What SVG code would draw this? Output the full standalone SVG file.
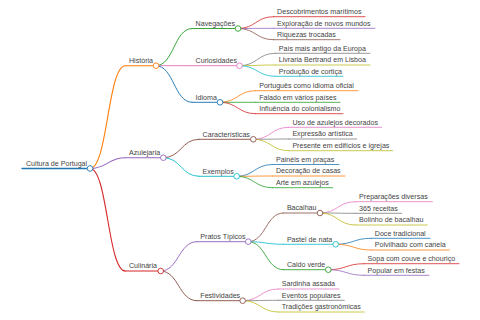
<svg xmlns="http://www.w3.org/2000/svg" width="480" height="320" viewBox="0 0 480 320">
<style>
text{font-family:"Liberation Sans",Arial,sans-serif;font-size:7.1px;fill:#444}
path,line{fill:none;stroke-linecap:round}
circle{fill:#fff;stroke-width:0.9}
.w0{stroke-width:1.3}.w1{stroke-width:1.1}.w2{stroke-width:0.95}.w3{stroke-width:0.85}.w4{stroke-width:0.8}
.c0{stroke:#1f77b4}.c1{stroke:#ff7f0e}.c2{stroke:#2ca02c}.c3{stroke:#d62728}.c4{stroke:#9467bd}
.c5{stroke:#8c564b}.c6{stroke:#e377c2}.c7{stroke:#7f7f7f}.c8{stroke:#bcbd22}.c9{stroke:#17becf}
</style>
<rect width="480" height="320" fill="#fff"/>
<g id="connectors">
<path class="w1 c1" d="M90,168.5 C107.7,168.5 107.7,65.7 125.4,65.7"/>
<path class="w1 c4" d="M90,168.5 C107.7,168.5 107.7,157.7 125.4,157.7"/>
<path class="w1 c3" d="M90,168.5 C107.7,168.5 107.7,271 125.4,271"/>
<path class="w2 c2" d="M156,65.7 C174,65.7 174,28.5 192,28.5"/>
<path class="w2 c6" d="M156,65.7 L192,65.7"/>
<path class="w2 c0" d="M156,65.7 C174,65.7 174,102.3 192,102.3"/>
<path class="w2 c5" d="M163.3,157.7 C181.2,157.7 181.2,139.3 199,139.3"/>
<path class="w2 c9" d="M163.3,157.7 C181.2,157.7 181.2,176.3 199,176.3"/>
<path class="w2 c4" d="M160.7,271 C178.7,271 178.7,241.7 196.7,241.7"/>
<path class="w2 c5" d="M160.7,271 C178.7,271 178.7,300.7 196.7,300.7"/>
<path class="w3 c5" d="M248.3,241.7 C265.8,241.7 265.8,213 283.3,213"/>
<path class="w3 c9" d="M248.3,241.7 C265.8,241.7 265.8,244.3 283.3,244.3"/>
<path class="w3 c2" d="M248.3,241.7 C265.8,241.7 265.8,269.7 283.3,269.7"/>
<path class="w4 c3" d="M238,28.5 C255.8,28.5 255.8,16.7 273.5,16.7"/>
<path class="w4 c4" d="M238,28.5 C255.8,28.5 255.8,28.3 273.5,28.3"/>
<path class="w4 c5" d="M238,28.5 C255.8,28.5 255.8,39.7 273.5,39.7"/>
<path class="w4 c7" d="M239.5,65.7 C257.4,65.7 257.4,53.3 275.2,53.3"/>
<path class="w4 c8" d="M239.5,65.7 C257.4,65.7 257.4,65 275.2,65"/>
<path class="w4 c9" d="M239.5,65.7 C257.4,65.7 257.4,76.3 275.2,76.3"/>
<path class="w4 c1" d="M220,102.3 C237.8,102.3 237.8,90.7 255.6,90.7"/>
<path class="w4 c2" d="M220,102.3 L255.6,102.3"/>
<path class="w4 c3" d="M220,102.3 C237.8,102.3 237.8,113.7 255.6,113.7"/>
<path class="w4 c6" d="M253.3,139.3 C271,139.3 271,127.3 288.8,127.3"/>
<path class="w4 c7" d="M253.3,139.3 C271,139.3 271,139 288.8,139"/>
<path class="w4 c8" d="M253.3,139.3 C271,139.3 271,150.7 288.8,150.7"/>
<path class="w4 c0" d="M236.7,176.3 C254.5,176.3 254.5,164.5 272.4,164.5"/>
<path class="w4 c1" d="M236.7,176.3 C254.5,176.3 254.5,176 272.4,176"/>
<path class="w4 c2" d="M236.7,176.3 C254.5,176.3 254.5,187.7 272.4,187.7"/>
<path class="w4 c6" d="M320,213 C337.8,213 337.8,201.7 355.5,201.7"/>
<path class="w4 c7" d="M320,213 C337.8,213 337.8,213.3 355.5,213.3"/>
<path class="w4 c8" d="M320,213 C337.8,213 337.8,225 355.5,225"/>
<path class="w4 c0" d="M335.7,244.3 C353.5,244.3 353.5,238.3 371.2,238.3"/>
<path class="w4 c1" d="M335.7,244.3 C353.5,244.3 353.5,250 371.2,250"/>
<path class="w4 c3" d="M328.3,269.7 C346.2,269.7 346.2,263.7 364,263.7"/>
<path class="w4 c4" d="M328.3,269.7 C346.2,269.7 346.2,275.3 364,275.3"/>
<path class="w4 c6" d="M242.7,300.7 C260.5,300.7 260.5,289 278.2,289"/>
<path class="w4 c7" d="M242.7,300.7 C260.5,300.7 260.5,300.3 278.2,300.3"/>
<path class="w4 c8" d="M242.7,300.7 C260.5,300.7 260.5,312 278.2,312"/>
</g>
<g id="root"><line class="w0 c0" x1="22" y1="168.5" x2="90" y2="168.5"/><circle class="c0" cx="90" cy="168.5" r="2.8"/><text x="26" y="165.7">Cultura de Portugal</text></g>
<g id="historia"><line class="w1 c1" x1="125.4" y1="65.7" x2="156" y2="65.7"/><circle class="c1" cx="156" cy="65.7" r="2.8"/><text x="129" y="62.9">História</text></g>
<g id="azulejaria"><line class="w1 c4" x1="125.4" y1="157.7" x2="163.3" y2="157.7"/><circle class="c4" cx="163.3" cy="157.7" r="2.8"/><text x="129" y="154.9">Azulejaria</text></g>
<g id="culinaria"><line class="w1 c3" x1="125.4" y1="271" x2="160.7" y2="271"/><circle class="c3" cx="160.7" cy="271" r="2.8"/><text x="129" y="268.2">Culinária</text></g>
<g id="navegacoes"><line class="w2 c2" x1="192" y1="28.5" x2="238" y2="28.5"/><circle class="c2" cx="238" cy="28.5" r="2.8"/><text x="195.6" y="25.7">Navegações</text></g>
<g id="curiosidades"><line class="w2 c6" x1="192" y1="65.7" x2="239.5" y2="65.7"/><circle class="c6" cx="239.5" cy="65.7" r="2.8"/><text x="195.6" y="62.9">Curiosidades</text></g>
<g id="idioma"><line class="w2 c0" x1="192" y1="102.3" x2="220" y2="102.3"/><circle class="c0" cx="220" cy="102.3" r="2.8"/><text x="195.6" y="99.5">Idioma</text></g>
<g id="caracteristicas"><line class="w2 c5" x1="199" y1="139.3" x2="253.3" y2="139.3"/><circle class="c5" cx="253.3" cy="139.3" r="2.8"/><text x="202.6" y="136.5">Características</text></g>
<g id="exemplos"><line class="w2 c9" x1="199" y1="176.3" x2="236.7" y2="176.3"/><circle class="c9" cx="236.7" cy="176.3" r="2.8"/><text x="202.6" y="173.5">Exemplos</text></g>
<g id="pratos"><line class="w2 c4" x1="196.7" y1="241.7" x2="248.3" y2="241.7"/><circle class="c4" cx="248.3" cy="241.7" r="2.8"/><text x="200.3" y="238.9">Pratos Típicos</text></g>
<g id="festividades"><line class="w2 c5" x1="196.7" y1="300.7" x2="242.7" y2="300.7"/><circle class="c5" cx="242.7" cy="300.7" r="2.8"/><text x="200.3" y="297.9">Festividades</text></g>
<g id="bacalhau"><line class="w3 c5" x1="283.3" y1="213" x2="320" y2="213"/><circle class="c5" cx="320" cy="213" r="2.8"/><text x="286.9" y="210.2">Bacalhau</text></g>
<g id="pastel"><line class="w3 c9" x1="283.3" y1="244.3" x2="335.7" y2="244.3"/><circle class="c9" cx="335.7" cy="244.3" r="2.8"/><text x="286.9" y="241.5">Pastel de nata</text></g>
<g id="caldo"><line class="w3 c2" x1="283.3" y1="269.7" x2="328.3" y2="269.7"/><circle class="c2" cx="328.3" cy="269.7" r="2.8"/><text x="286.9" y="266.9">Caldo verde</text></g>
<g id="l1"><line class="w4 c3" x1="273.5" y1="16.7" x2="365" y2="16.7"/><text x="277.1" y="13.9">Descobrimentos marítimos</text></g>
<g id="l2"><line class="w4 c4" x1="273.5" y1="28.3" x2="375" y2="28.3"/><text x="277.1" y="25.5">Exploração de novos mundos</text></g>
<g id="l3"><line class="w4 c5" x1="273.5" y1="39.7" x2="340" y2="39.7"/><text x="277.1" y="36.9">Riquezas trocadas</text></g>
<g id="l4"><line class="w4 c7" x1="275.2" y1="53.3" x2="370" y2="53.3"/><text x="278.8" y="50.5">País mais antigo da Europa</text></g>
<g id="l5"><line class="w4 c8" x1="275.2" y1="65" x2="370" y2="65"/><text x="278.8" y="62.2">Livraria Bertrand em Lisboa</text></g>
<g id="l6"><line class="w4 c9" x1="275.2" y1="76.3" x2="343" y2="76.3"/><text x="278.8" y="73.5">Produção de cortiça</text></g>
<g id="l7"><line class="w4 c1" x1="255.6" y1="90.7" x2="358" y2="90.7"/><text x="259.2" y="87.9">Português como idioma oficial</text></g>
<g id="l8"><line class="w4 c2" x1="255.6" y1="102.3" x2="340" y2="102.3"/><text x="259.2" y="99.5">Falado em vários países</text></g>
<g id="l9"><line class="w4 c3" x1="255.6" y1="113.7" x2="343" y2="113.7"/><text x="259.2" y="110.9">Influência do colonialismo</text></g>
<g id="l10"><line class="w4 c6" x1="288.8" y1="127.3" x2="381.7" y2="127.3"/><text x="292.4" y="124.5">Uso de azulejos decorados</text></g>
<g id="l11"><line class="w4 c7" x1="288.8" y1="139" x2="356.7" y2="139"/><text x="292.4" y="136.2">Expressão artística</text></g>
<g id="l12"><line class="w4 c8" x1="288.8" y1="150.7" x2="392.7" y2="150.7"/><text x="292.4" y="147.9">Presente em edifícios e igrejas</text></g>
<g id="l13"><line class="w4 c0" x1="272.4" y1="164.5" x2="339" y2="164.5"/><text x="276" y="161.7">Painéis em praças</text></g>
<g id="l14"><line class="w4 c1" x1="272.4" y1="176" x2="345" y2="176"/><text x="276" y="173.2">Decoração de casas</text></g>
<g id="l15"><line class="w4 c2" x1="272.4" y1="187.7" x2="332.7" y2="187.7"/><text x="276" y="184.9">Arte em azulejos</text></g>
<g id="l16"><line class="w4 c6" x1="355.5" y1="201.7" x2="432.3" y2="201.7"/><text x="359.1" y="198.9">Preparações diversas</text></g>
<g id="l17"><line class="w4 c7" x1="355.5" y1="213.3" x2="401.7" y2="213.3"/><text x="359.1" y="210.5">365 receitas</text></g>
<g id="l18"><line class="w4 c8" x1="355.5" y1="225" x2="427.3" y2="225"/><text x="359.1" y="222.2">Bolinho de bacalhau</text></g>
<g id="l19"><line class="w4 c0" x1="371.2" y1="238.3" x2="430" y2="238.3"/><text x="374.8" y="235.5">Doce tradicional</text></g>
<g id="l20"><line class="w4 c1" x1="371.2" y1="250" x2="449.3" y2="250"/><text x="374.8" y="247.2">Polvilhado com canela</text></g>
<g id="l21"><line class="w4 c3" x1="364" y1="263.7" x2="459" y2="263.7"/><text x="367.6" y="260.9">Sopa com couve e chouriço</text></g>
<g id="l22"><line class="w4 c4" x1="364" y1="275.3" x2="429" y2="275.3"/><text x="367.6" y="272.5">Popular em festas</text></g>
<g id="l23"><line class="w4 c6" x1="278.2" y1="289" x2="339" y2="289"/><text x="281.8" y="286.2">Sardinha assada</text></g>
<g id="l24"><line class="w4 c7" x1="278.2" y1="300.3" x2="344.3" y2="300.3"/><text x="281.8" y="297.5">Eventos populares</text></g>
<g id="l25"><line class="w4 c8" x1="278.2" y1="312" x2="364.3" y2="312"/><text x="281.8" y="309.2">Tradições gastronômicas</text></g>
</svg>
